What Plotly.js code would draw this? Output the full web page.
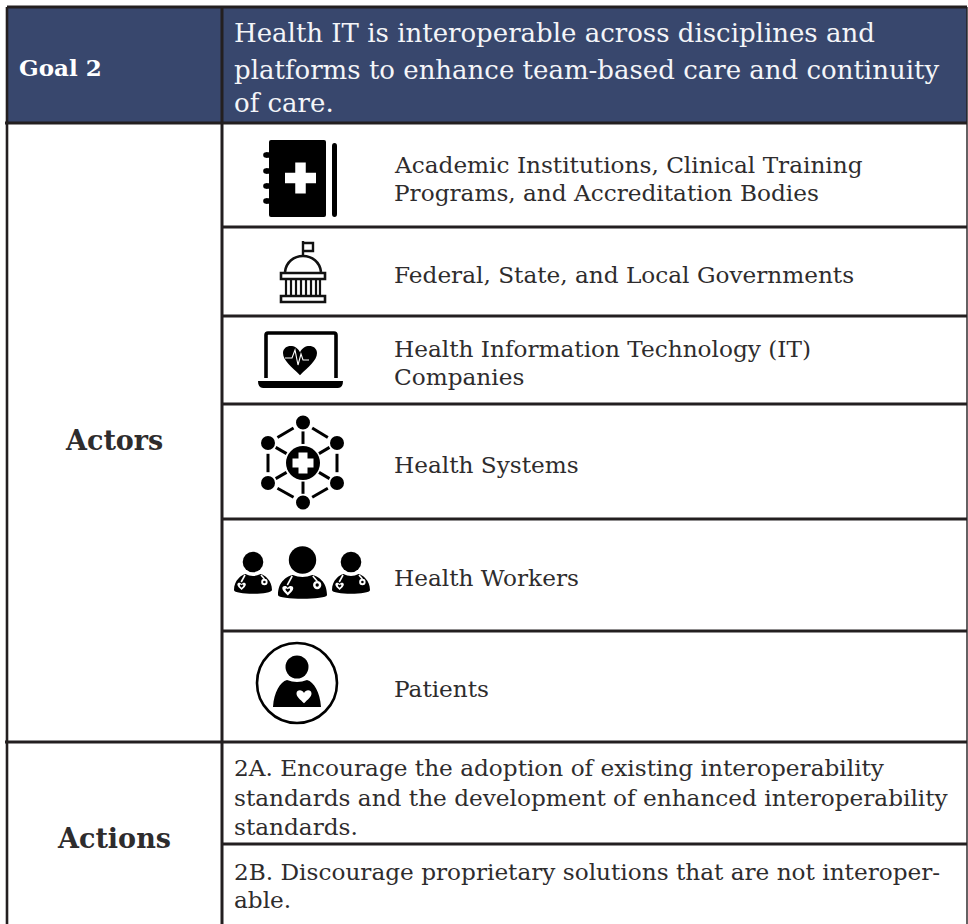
<!DOCTYPE html>
<html><head><meta charset="utf-8">
<script src="https://cdn.plot.ly/plotly-3.0.1.min.js"></script>
<style>html,body{margin:0;padding:0;background:#fff}#c{width:968px;height:924px}</style></head>
<body><div id="c"></div>
<script>
const FONT = '"DejaVu Serif", serif';
const INK = '#231f20';
const TEXTC = '#2e2c2d';
const NAVY = '#38476d';

const goalLabel = 'Goal 2';
const goalText = ['Health IT is interoperable across disciplines and','platforms to enhance team-based care and continuity','of care.'];
const goalY = [33, 70, 103];
const sectionLabels = ['Actors', 'Actions'];
const sectionY = [440, 838];
const actorLines = [
  ['Academic Institutions, Clinical Training', 164],
  ['Programs, and Accreditation Bodies', 192],
  ['Federal, State, and Local Governments', 274],
  ['Health Information Technology (IT)', 348],
  ['Companies', 376],
  ['Health Systems', 464],
  ['Health Workers', 577],
  ['Patients', 688]
];
const actionLines = [
  ['2A. Encourage the adoption of existing interoperability', 767],
  ['standards and the development of enhanced interoperability', 797],
  ['standards.', 826],
  ['2B. Discourage proprietary solutions that are not interoper-', 871],
  ['able.', 899]
];
const rowRules = [227, 316, 404, 519, 631];
const headerBottom = 123, actorsBottom = 742, actionSplit = 844;
const colLeft = 7, colMid = 222, colRight = 967, tableTop = 7, tableBottom = 924;

const shapes = [], annotations = [];
const line = (x0,y0,x1,y1,w,c) => shapes.push({type:'line',xref:'x',yref:'y',x0,y0,x1,y1,line:{color:c||INK,width:w}});
const rect = (x0,y0,x1,y1,fill) => shapes.push({type:'rect',xref:'x',yref:'y',x0,y0,x1,y1,fillcolor:fill,line:{width:0}});
const path = (d,fill,w,c) => shapes.push({type:'path',xref:'x',yref:'y',path:d,fillcolor:fill||'rgba(0,0,0,0)',line:{color:c||'rgba(0,0,0,0)',width:w||0}});
const circ = (x,y,r,fill,w,c) => shapes.push({type:'circle',xref:'x',yref:'y',x0:x-r,x1:x+r,y0:y-r,y1:y+r,fillcolor:fill||'rgba(0,0,0,0)',line:{color:c||'rgba(0,0,0,0)',width:w||0}});
const txt = (s,x,y,size,color,bold,anchor) => annotations.push({text:bold?'<b>'+s+'</b>':s,xref:'x',yref:'y',x,y,xanchor:anchor||'left',yanchor:'middle',showarrow:false,align:'left',borderpad:0,font:{family:FONT,size,color}});
const plus = (cx,cy,span,arm) => { const s=span/2,a=arm/2;
  path(`M${cx-a},${cy-s}H${cx+a}V${cy-a}H${cx+s}V${cy+a}H${cx+a}V${cy+s}H${cx-a}V${cy+a}H${cx-s}V${cy-a}H${cx-a}Z`,'#fff'); };
const heart = (cx,cy,w,fill) => { const k=w/2;
  path(`M${cx},${cy+k*0.95}C${cx-k*0.5},${cy+k*0.45} ${cx-k},${cy+k*0.1} ${cx-k},${cy-k*0.35}C${cx-k},${cy-k*0.85} ${cx-k*0.25},${cy-k*0.95} ${cx},${cy-k*0.4}C${cx+k*0.25},${cy-k*0.95} ${cx+k},${cy-k*0.85} ${cx+k},${cy-k*0.35}C${cx+k},${cy+k*0.1} ${cx+k*0.5},${cy+k*0.45} ${cx},${cy+k*0.95}Z`,fill); };

// header
rect(colLeft,tableTop,colRight,headerBottom,NAVY);

// icon 1: medical book
path('M271,140H324Q326,140 326,142V215Q326,217 324,217H271Q269,217 269,215V142Q269,140 271,140Z','#000');
[155,171,186,201].forEach(y=>{ line(266,y,270,y,5.5,'#000'); circ(266,y,2.8,'#000'); });
plus(300.5,178,31,10.5);
path('M332,146Q332,143 334.5,143Q337,143 337,146V214Q337,217 334.5,217Q332,217 332,214Z','#000');

// icon 2: government building
path('M303,255V241M303,243H313V251H303',null,2.4,'#111');
path('M285,272C286,262 294,256 303,256C312,256 320,262 321,272',null,2.6,'#111');
path('M281,273H325V279H281Z',null,2.6,'#111');
path('M281,296H325V302H281Z',null,2.6,'#111');
[286,291,296,301,306,311,316,320].forEach(x=>line(x,279,x,295,2.2,'#111'));

// icon 3: laptop with heart
path('M266,378V335Q266,333 268,333H334Q336,333 336,335V378',null,3.6,'#000');
path('M258,381H343Q343,388 338,388H263Q258,388 258,381Z','#000');
heart(300,359,34,'#000');
path('M285,358H292L295,350L298,365L301,354L303,360H309',null,1.1,'#fff');

// icon 4: health system network
const hub = [303,463];
const nodes = [[303,422.5],[337,443],[337,483],[303,502.5],[268,483],[268,443]];
const seg = (a,b,t0,t1) => line(a[0]+(b[0]-a[0])*t0,a[1]+(b[1]-a[1])*t0,a[0]+(b[0]-a[0])*t1,a[1]+(b[1]-a[1])*t1,3,'#000');
nodes.forEach((n,i)=>{ seg(n,nodes[(i+1)%6],0.27,0.73); seg(hub,n,0.47,0.78); });
nodes.forEach(n=>circ(n[0],n[1],7,'#000'));
circ(hub[0],hub[1],17,'#000');
plus(hub[0],hub[1],21,9);

// icon 5: health workers
const worker = (cx,hy,hr,bw,bt,bb) => {
  circ(cx,hy,hr,'#000');
  const w=bw/2;
  path(`M${cx-w},${bb-5}C${cx-w},${bt+5} ${cx-w*0.6},${bt} ${cx-w*0.4},${bt-1}Q${cx},${bt+3} ${cx+w*0.4},${bt-1}C${cx+w*0.6},${bt} ${cx+w},${bt+5} ${cx+w},${bb-5}C${cx+w},${bb} ${cx-w},${bb} ${cx-w},${bb-5}Z`,'#000');
  const k=bw/38;
  path(`M${cx-w*0.42},${bt}L${cx-w*0.62},${bt+7*k}`,null,1.6,'#fff');
  heart(cx-w*0.6,bt+11*k,8.5*k,'#fff');
  heart(cx-w*0.6,bt+11*k,3.6*k,'#000');
  path(`M${cx+w*0.42},${bt}L${cx+w*0.6},${bt+4*k}`,null,1.6,'#fff');
  circ(cx+w*0.6,bt+7*k,3.2*k,'#fff'); circ(cx+w*0.6,bt+7*k,1.3*k,'#000');
};
worker(253,562,10.3,38,575,595);
worker(302.5,560,13.7,49,576,600);
worker(351,562,10.3,38,575,595);

// icon 6: patient
circ(297,683,40,null,2.6,'#000');
circ(297,667,11.5,'#000');
path('M273,707C274,692 280,682 287,680Q297,684 307,680C314,682 320,692 321,707Z','#000');
heart(304,696,15,'#fff');

// grid
line(colLeft,tableTop,colRight,tableTop,3);
line(colLeft,tableTop,colLeft,tableBottom,2.6);
line(colMid,tableTop,colMid,tableBottom,3);
line(colRight,tableTop,colRight,tableBottom,1.4);
line(5,headerBottom,colRight,headerBottom,3);
rowRules.forEach(y=>line(colMid-1,y,colRight,y,3));
line(5,actorsBottom,colRight,actorsBottom,3);
line(colMid,actionSplit,colRight,actionSplit,3);

// text
txt(goalLabel,18,67,23,'#fff',true);
goalText.forEach((s,i)=>txt(s,233,goalY[i],26,'#f4f5f8'));
txt(sectionLabels[0],114,sectionY[0],27,TEXTC,true,'center');
txt(sectionLabels[1],114,sectionY[1],27,TEXTC,true,'center');
actorLines.forEach(l=>txt(l[0],393,l[1],23.2,TEXTC));
actionLines.forEach(l=>txt(l[0],233,l[1],23.2,TEXTC));

Plotly.newPlot('c',[{type:'scatter',x:[0,968],y:[0,924],mode:'markers',marker:{opacity:0},hoverinfo:'skip',showlegend:false}],{
  width:968,height:924,margin:{l:0,r:0,t:0,b:0},paper_bgcolor:'#fff',plot_bgcolor:'#fff',showlegend:false,
  xaxis:{range:[0,968],visible:false,fixedrange:true},
  yaxis:{range:[924,0],visible:false,fixedrange:true},
  shapes,annotations
},{displayModeBar:false,staticPlot:true});
</script></body></html>
